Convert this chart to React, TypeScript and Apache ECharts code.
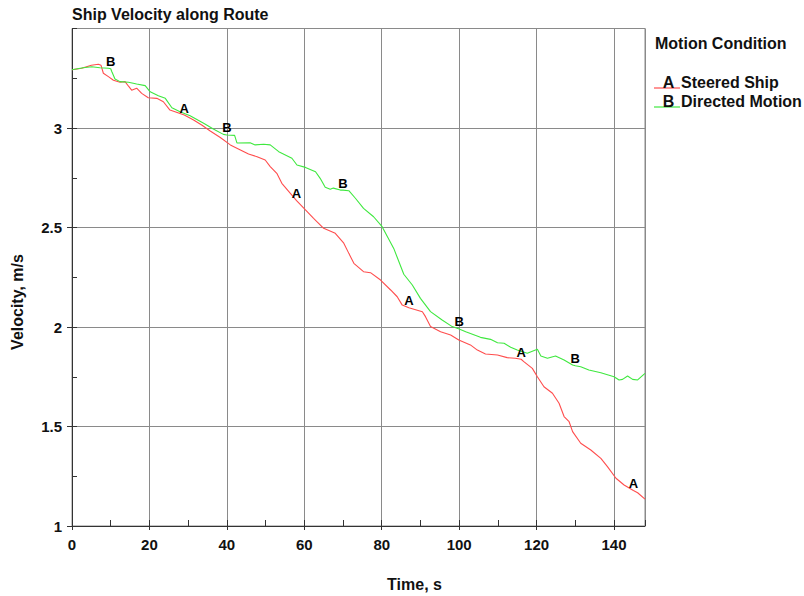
import React, { useEffect, useRef } from "react";
import * as echarts from "echarts";

// Steered ship (curve A): time, s / velocity, m/s
const timeSteered = [
  0, 2.5, 5.0, 6.8, 7.5, 8.1, 9.4, 10.7, 12.4, 13.7, 14.6, 15.4, 16.7, 18.0, 19.7, 21.9, 23.6, 25.3, 26.6, 29,
  31.4, 33.5, 35.7, 38.3, 40.9, 43.5, 45.6, 47.8, 49.9, 51.2, 52.9, 54.2, 56.4, 58, 60.3, 62.4, 65.0, 68.0,
  70.2, 71.5, 72.8, 75.3, 77.1, 79.7, 82.3, 84.0, 85.3, 87, 90.5, 91.3, 92.6, 95.2, 97.8, 99.9, 102.9, 104.7,
  106.8, 109.9, 112.4, 114.5, 116, 116.7, 118.9, 120.2, 121.9, 124.1, 125.8, 127.1, 128.4, 129.3, 131.4,
  134.0, 136.6, 138.3, 140.5, 142.6, 145, 146.1, 148,
];
const velSteered = [
  3.293, 3.3, 3.315, 3.32, 3.315, 3.275, 3.258, 3.24, 3.23, 3.233, 3.21, 3.19, 3.2, 3.174, 3.152, 3.149, 3.132,
  3.09, 3.082, 3.065, 3.04, 3.015, 2.985, 2.952, 2.915, 2.89, 2.869, 2.856, 2.839, 2.806, 2.772, 2.722, 2.672,
  2.635, 2.588, 2.546, 2.496, 2.471, 2.421, 2.37, 2.32, 2.278, 2.273, 2.236, 2.186, 2.152, 2.11, 2.097, 2.077,
  2.052, 2.002, 1.976, 1.96, 1.935, 1.91, 1.884, 1.864, 1.859, 1.846, 1.843, 1.838, 1.826, 1.792, 1.75, 1.7,
  1.667, 1.617, 1.55, 1.524, 1.474, 1.416, 1.382, 1.34, 1.298, 1.24, 1.206, 1.178, 1.167, 1.135,
];

// Directed motion (curve B)
const timeDirected = [
  0, 2.9, 5.1, 7.2, 9.4, 10, 10.3, 11.1, 12.4, 14.6, 16.7, 18.9, 20.2, 22.3, 24.1, 25.8, 27.9, 30.5, 34.0,
  36.5, 39.1, 40, 42.0, 42.6, 46.0, 47.3, 49.5, 51.2, 53.4, 56.8, 58.1, 60.3, 62.9, 64.1, 65.4, 66.7, 67.5,
  69.3, 70, 71.5, 73.2, 75.3, 77.9, 80.1, 83.1, 85.7, 87.9, 90.0, 92.6, 95.6, 98.2, 100, 101.7, 105.5, 108.1,
  109.9, 111.6, 113.3, 115.0, 117.6, 120.2, 121.1, 122.8, 124.9, 127.1, 129.3, 130, 131.4, 133.5, 136.6,
  140.0, 141.3, 142.2, 143.5, 144.8, 146.1, 148,
];
const velDirected = [
  3.293, 3.303, 3.308, 3.303, 3.3, 3.298, 3.283, 3.246, 3.233, 3.23, 3.221, 3.213, 3.182, 3.162, 3.149, 3.102,
  3.082, 3.062, 3.024, 2.995, 2.968, 2.965, 2.963, 2.925, 2.926, 2.915, 2.918, 2.915, 2.881, 2.848, 2.814,
  2.802, 2.78, 2.747, 2.702, 2.692, 2.698, 2.688, 2.688, 2.685, 2.647, 2.596, 2.554, 2.504, 2.395, 2.265,
  2.211, 2.144, 2.077, 2.035, 2.002, 1.99, 1.976, 1.948, 1.938, 1.921, 1.918, 1.898, 1.884, 1.868, 1.888,
  1.854, 1.843, 1.854, 1.834, 1.809, 1.805, 1.8, 1.784, 1.77, 1.75, 1.734, 1.737, 1.754, 1.737, 1.734, 1.767,
];

// Times at which the curve letters are printed
const steeredMarks = [29, 58, 87, 116, 145];
const directedMarks = [10, 40, 70, 100, 130];

const seriesNames = ["Steered Ship", "Directed Motion"];
const seriesLetters = ["A", "B"];
const legendTitle = "Motion Condition";
const chartTitle = "Ship Velocity along Route";
const xTitle = "Time, s";
const yTitle = "Velocity, m/s";

const FONT = "'Liberation Sans', Arial, Helvetica, sans-serif";
const RED = "#ff4d4d";
const GREEN = "#3fe83f";
const GRID = "#8a8a8a";
const AXIS = "#333333";

const zip = (t: number[], v: number[]) => t.map((x, i) => [x, v[i]]);
const marksOn = (t: number[], v: number[], marks: number[]) =>
  marks.map((m) => [m, v[t.indexOf(m)]]);

export default function App() {
  const ref = useRef<HTMLDivElement>(null);

  useEffect(() => {
    if (!ref.current) return;
    const chart = echarts.init(ref.current, null, { renderer: "svg" });

    const letterLabel = {
      show: true,
      position: "top" as const,
      distance: 0,
      fontFamily: FONT,
      fontWeight: "bold" as const,
      fontSize: 13,
      color: "#000000",
      opacity: 1,
    };

    const option: any = {
      animation: false,
      backgroundColor: "#ffffff",
      grid: {
        left: 72,
        top: 28.5,
        right: 159,
        bottom: 70,
        show: true,
        borderColor: GRID,
        borderWidth: 1,
      },
      xAxis: [
        {
          type: "value",
          min: 0,
          max: 148,
          interval: 20,
          axisLine: { show: true, lineStyle: { color: AXIS, width: 1 } },
          axisTick: { show: true, inside: false, length: 4, lineStyle: { color: AXIS } },
          splitLine: { show: true, lineStyle: { color: GRID, width: 1 } },
          axisLabel: {
            margin: 11,
            fontFamily: FONT,
            fontWeight: "bold",
            fontSize: 15,
            color: "#111",
            showMaxLabel: false,
          },
        },
        {
          type: "value",
          min: 0,
          max: 148,
          interval: 10,
          position: "bottom",
          axisLine: { show: false },
          axisTick: { show: true, inside: true, length: 6, lineStyle: { color: AXIS } },
          splitLine: { show: false },
          axisLabel: { show: false },
        },
      ],
      yAxis: [
        {
          type: "value",
          min: 1,
          max: 3.5,
          interval: 0.5,
          axisLine: { show: true, lineStyle: { color: AXIS, width: 1 } },
          axisTick: { show: true, inside: false, length: 5, lineStyle: { color: AXIS } },
          splitLine: { show: true, lineStyle: { color: GRID, width: 1 } },
          axisLabel: {
            margin: 10,
            fontFamily: FONT,
            fontWeight: "bold",
            fontSize: 15,
            color: "#111",
            showMaxLabel: false,
          },
        },
        {
          type: "value",
          min: 1,
          max: 3.5,
          interval: 0.25,
          position: "left",
          axisLine: { show: false },
          axisTick: { show: true, inside: true, length: 5, lineStyle: { color: AXIS } },
          splitLine: { show: false },
          axisLabel: { show: false },
        },
      ],
      series: [
        {
          name: seriesNames[0],
          type: "line",
          data: zip(timeSteered, velSteered),
          showSymbol: false,
          lineStyle: { color: RED, width: 1.1 },
          itemStyle: { color: RED },
          z: 3,
        },
        {
          name: seriesNames[1],
          type: "line",
          data: zip(timeDirected, velDirected),
          showSymbol: false,
          lineStyle: { color: GREEN, width: 1.1 },
          itemStyle: { color: GREEN },
          z: 3,
        },
        {
          name: seriesNames[0] + " marks",
          type: "scatter",
          data: marksOn(timeSteered, velSteered, steeredMarks),
          symbol: "circle",
          symbolSize: 1,
          itemStyle: { color: "rgba(0,0,0,0)" },
          label: { ...letterLabel, formatter: seriesLetters[0] },
          silent: true,
          z: 4,
        },
        {
          name: seriesNames[1] + " marks",
          type: "scatter",
          data: marksOn(timeDirected, velDirected, directedMarks),
          symbol: "circle",
          symbolSize: 1,
          itemStyle: { color: "rgba(0,0,0,0)" },
          label: { ...letterLabel, formatter: seriesLetters[1] },
          silent: true,
          z: 4,
        },
      ],
      graphic: [
        {
          type: "text",
          left: 72,
          top: 6,
          style: { text: chartTitle, font: `bold 16px ${FONT}`, fill: "#111" },
        },
        {
          type: "text",
          x: 414.5,
          y: 584,
          style: {
            text: xTitle,
            font: `bold 16px ${FONT}`,
            fill: "#111",
            align: "center",
            verticalAlign: "middle",
          },
        },
        {
          type: "text",
          x: 17.5,
          y: 302,
          rotation: Math.PI / 2,
          style: {
            text: yTitle,
            font: `bold 16px ${FONT}`,
            fill: "#111",
            align: "center",
            verticalAlign: "middle",
          },
        },
        {
          type: "text",
          x: 655,
          y: 43,
          style: {
            text: legendTitle,
            font: `bold 16px ${FONT}`,
            fill: "#111",
            verticalAlign: "middle",
          },
        },
        {
          type: "line",
          shape: { x1: 654, y1: 88, x2: 680, y2: 88 },
          style: { stroke: RED, lineWidth: 1.2 },
        },
        {
          type: "text",
          x: 668.5,
          y: 82,
          style: {
            text: seriesLetters[0],
            font: `bold 16px ${FONT}`,
            fill: "#111",
            align: "center",
            verticalAlign: "middle",
          },
        },
        {
          type: "text",
          x: 681,
          y: 82,
          style: {
            text: seriesNames[0],
            font: `bold 16px ${FONT}`,
            fill: "#111",
            verticalAlign: "middle",
          },
        },
        {
          type: "line",
          shape: { x1: 654, y1: 107, x2: 680, y2: 107 },
          style: { stroke: GREEN, lineWidth: 1.2 },
        },
        {
          type: "text",
          x: 668.5,
          y: 101,
          style: {
            text: seriesLetters[1],
            font: `bold 16px ${FONT}`,
            fill: "#111",
            align: "center",
            verticalAlign: "middle",
          },
        },
        {
          type: "text",
          x: 681,
          y: 101,
          style: {
            text: seriesNames[1],
            font: `bold 16px ${FONT}`,
            fill: "#111",
            verticalAlign: "middle",
          },
        },
      ],
    };

    chart.setOption(option);
    return () => chart.dispose();
  }, []);

  return <div ref={ref} style={{ width: 804, height: 596, position: "fixed", left: 0, top: 0 }} />;
}
